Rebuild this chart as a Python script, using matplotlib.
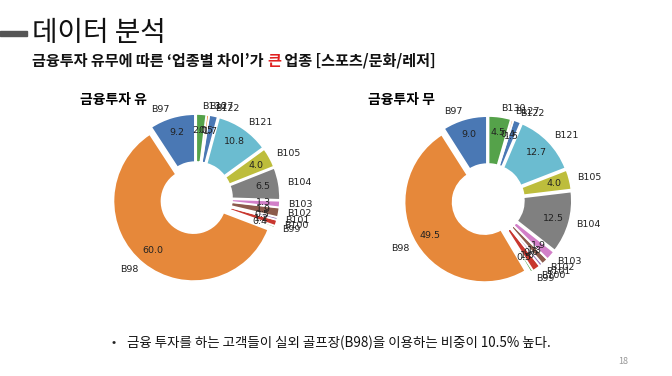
import matplotlib
matplotlib.use("Agg")
import matplotlib.pyplot as plt
from matplotlib.patches import Rectangle

plt.rcParams['font.family'] = ['Noto Sans CJK KR', 'DejaVu Sans']

# 업종 코드 (반시계 방향, 12시 방향부터)
categories = ['B97', 'B98', 'B99', 'B100', 'B101', 'B102', 'B103',
              'B104', 'B105', 'B121', 'B122', 'B127', 'B130']
invest_yes = [9.2, 60.0, 0.4, 1.2, 0.5, 1.9, 1.3, 6.5, 4.0, 10.8, 1.7, 0.5, 2.0]
invest_no = [9.0, 49.5, 0.5, 1.6, 0.6, 1.3, 1.9, 12.5, 4.0, 12.7, 1.5, 0.4, 4.5]

colors = ['#4a78b4', '#e6883a', '#55a24a', '#c8372f', '#9470b8', '#8c5a4c',
          '#d27fc8', '#808080', '#bdbd3c', '#6bbcd0', '#4a78b4', '#e6883a',
          '#55a24a']

fig = plt.figure(figsize=(6.72, 3.76), dpi=100)
W, H = 672, 376


def donut(cx, cy, values):
    size = 240
    ax = fig.add_axes([(cx - size / 2) / W, (H - cy - size / 2) / H, size / W, size / H])
    ax.pie(values, labels=categories, colors=colors, startangle=90,
           explode=[0.05] * len(values), autopct='%.1f', pctdistance=0.8,
           labeldistance=1.1, radius=1.0,
           wedgeprops=dict(width=0.6, edgecolor='white', linewidth=1.2),
           textprops=dict(family='DejaVu Sans', fontsize=6.8, color='#222222'))
    ax.set_xlim(-1.5, 1.5)
    ax.set_ylim(-1.5, 1.5)
    ax.set_aspect('equal')
    ax.axis('off')


donut(196, 198, invest_yes)
donut(488, 200, invest_no)

fig.text(80 / W, 1 - 100 / H, '금융투자 유', fontsize=10, fontweight='bold', va='center')
fig.text(368 / W, 1 - 100 / H, '금융투자 무', fontsize=10, fontweight='bold', va='center')

# 제목
fig.patches.append(Rectangle((0, 1 - 36 / H), 27 / W, 5 / H, transform=fig.transFigure,
                             color='#555555'))
fig.text(32 / W, 1 - 33 / H, '데이터 분석', fontsize=20, va='center', color='#111111')

# 부제목 (‘큰’만 빨간색)
renderer = fig.canvas.get_renderer()
parts = [("금융투자 유무에 따른 ‘업종별 차이’가 ", '#111111'),
         ("큰", '#e02020'),
         (" 업종 [스포츠/문화/레저]", '#111111')]
x = 32 / W
for s, c in parts:
    t = fig.text(x, 1 - 61 / H, s, fontsize=10.9, fontweight='bold', va='center', color=c)
    bb = t.get_window_extent(renderer=renderer)
    x = bb.x1 / W

fig.text(112 / W, 1 - 343 / H, '•', fontsize=9, va='center', color='#222222')
fig.text(127 / W, 1 - 343 / H, '금융 투자를 하는 고객들이 실외 골프장(B98)을 이용하는 비중이 10.5% 높다.',
         fontsize=9.7, va='center', color='#111111')
fig.text(618 / W, 1 - 362 / H, '18', fontsize=6.5, va='center', color='#999999')

fig.savefig('out.png', dpi=100)
